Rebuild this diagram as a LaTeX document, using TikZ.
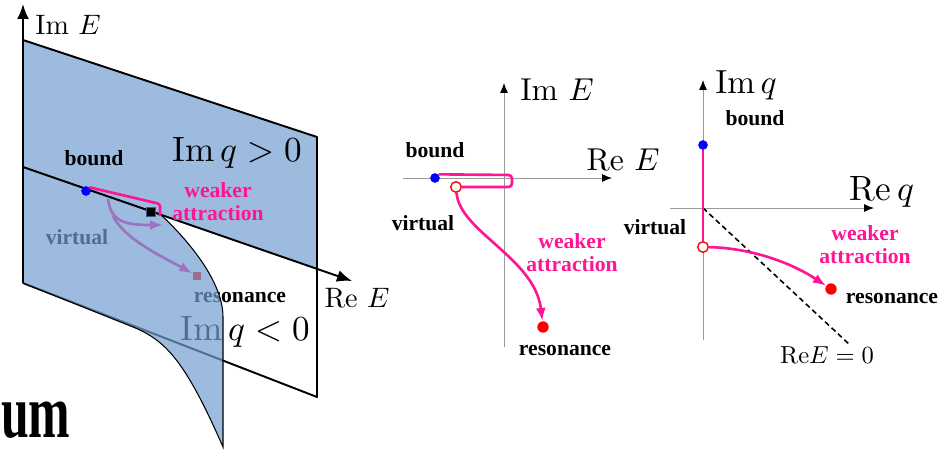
\documentclass[tikz,border=0pt]{standalone}
\usepackage{amsmath}
\usepackage{fontspec}
\newfontfamily\labelfont{Liberation Serif}
\usetikzlibrary{arrows.meta,calc}
\definecolor{sheetblue}{HTML}{739CD1}
\definecolor{attrpink}{HTML}{FF1493}
\definecolor{axisgray}{HTML}{9A9A9A}
\definecolor{cutedge}{HTML}{3A5A8C}
\tikzset{
  sheet/.style={
    fill=sheetblue,
    fill opacity=0.7
  },
  frame/.style={draw=black,line width=1.1pt,line join=round},
  boldaxis/.style={-{Latex[length=3mm,width=2.4mm]},line width=1.1pt},
  axisline/.style={-{Latex[length=2mm,width=1.6mm,color=black]},draw=axisgray,line width=0.5pt},
  pinkline/.style={draw=attrpink,line width=1.5pt},
  pinkarrow/.style={pinkline,-{Latex[length=2.6mm,width=2mm]}},
  boundpt/.style={circle,fill=blue,inner sep=0pt,minimum size=5.5pt},
  respt/.style={circle,fill=red,inner sep=0pt,minimum size=6.5pt},
  virtpt/.style={circle,draw=red,fill=white,line width=0.8pt,inner sep=0pt,minimum size=6pt},
  tag/.style={font=\labelfont\bfseries\fontsize{12.3}{13.1}\selectfont,inner sep=0pt},
  pinktag/.style={tag,text=attrpink,align=center},
  mathtag/.style={inner sep=0pt}
}

\begin{document}
\begin{tikzpicture}[x=0.02cm,y=-0.02cm]
  \useasboundingbox (0,0) rectangle (949,453);

  % left: the two sheets of the energy plane
  \fill[sheet] (23,40) -- (317,137) -- (317,269) -- (23,167) -- cycle;
  \draw[frame] (23,40) -- (317,137) -- (317,397) -- (23,283);

  \node[tag] (lreslbl) at (240,297) {resonance};
  \node[mathtag,scale=2] (lower) at (245,332) {$\operatorname{Im} q<0$};
  \node[tag] (lvirtlbl) at (77,237) {virtual};
  \node[rectangle,fill=red,inner sep=0pt,minimum size=5pt] (lres) at (197,276) {};
  \coordinate (lvirt) at (108,199);
  \coordinate (lsplit) at (113,216);
  \coordinate (lback) at (163,225);
  \draw[pinkarrow] (lvirt) .. controls (111,222) and (125,225) .. (lback);
  \draw[pinkarrow] (lsplit) .. controls (125,240) and (165,258) .. (lres);

  \filldraw[sheet,draw=black,line width=0.6pt] (23,167) -- (160,214)
    .. controls (185,237) and (223,280) .. (223,317) -- (223,447)
    .. controls (185,360) and (165,340) .. (133,327) -- (23,283) -- cycle;

  \draw[boldaxis] (23,283) -- (23,4);
  \draw[boldaxis] (23,167) -- (352,281);

  \node[tag] (lboundlbl) at (94,158) {bound};
  \node[boundpt] (lbound) at (86,191) {};
  \node[rectangle,fill=black,draw=cutedge,line width=0.6pt,inner sep=0pt,minimum size=5pt] (lcut) at (151,212) {};
  \coordinate (lturn) at (160,204);
  \draw[pinkline,rounded corners=1.5pt] (lbound.north east) -- (lturn) -- ++(0,12);
  \node[pinktag] (lweak) at (218,202) {weaker\\attraction};
  \node[mathtag,scale=2] (upper) at (237,153) {$\operatorname{Im} q>0$};
  \node[mathtag,scale=1.6] (lre) at (357,298) {$\mathrm{Re}\ E$};
  \node[mathtag,scale=1.6] (lim) at (68,25) {$\mathrm{Im}\ E$};

  \node[font=\labelfont\bfseries\fontsize{43}{43}\selectfont,xscale=0.66,anchor=base west,inner sep=0pt] (umtext) at (1,437) {um};

  % middle: E plane
  \draw[axisline] (403,178) -- (612,178);
  \draw[axisline] (504,347) -- (504,83);
  \node[mathtag,scale=1.8] (mim) at (557,90) {$\mathrm{Im}\ E$};
  \node[mathtag,scale=1.8] (mre) at (623,160) {$\mathrm{Re}\ E$};
  \node[boundpt] (mbound) at (435,178) {};
  \node[virtpt] (mvirt) at (456,187) {};
  \node[respt] (mres) at (543,327) {};
  \draw[pinkline,rounded corners=2pt] (mbound.north east) -- (512,175) -- (512,187) -- (mvirt);
  \draw[pinkarrow] (mvirt) .. controls (460,232) and (535,258) .. (mres);
  \node[tag] (mboundlbl) at (435,150) {bound};
  \node[tag] (mvirtlbl) at (423,223) {virtual};
  \node[pinktag] (mweak) at (572,253) {weaker\\attraction};
  \node[tag] (mreslbl) at (565,350) {resonance};

  % right: q plane
  \draw[axisline] (670,208) -- (874,208);
  \draw[axisline] (703,340) -- (703,80);
  \draw[dash pattern=on 3pt off 2pt,line width=0.9pt] (703,208) -- (850,345);
  \node[mathtag,scale=1.9] (rim) at (746,85) {$\operatorname{Im} q$};
  \node[mathtag,scale=2] (rre) at (882,192) {$\operatorname{Re} q$};
  \node[mathtag,scale=1.4] (rline) at (827,355) {$\mathrm{Re}E=0$};
  \node[boundpt] (rbound) at (703,145) {};
  \node[virtpt] (rvirt) at (703,247) {};
  \node[respt] (rres) at (831,289) {};
  \draw[pinkline] (rbound) -- (rvirt);
  \draw[pinkarrow] (rvirt) .. controls (750,248) and (790,262) .. (rres);
  \node[tag] (rboundlbl) at (755,118) {bound};
  \node[tag] (rvirtlbl) at (655,227) {virtual};
  \node[pinktag] (rweak) at (865,245) {weaker\\attraction};
  \node[tag] (rreslbl) at (892,298) {resonance};
\end{tikzpicture}
\end{document}
